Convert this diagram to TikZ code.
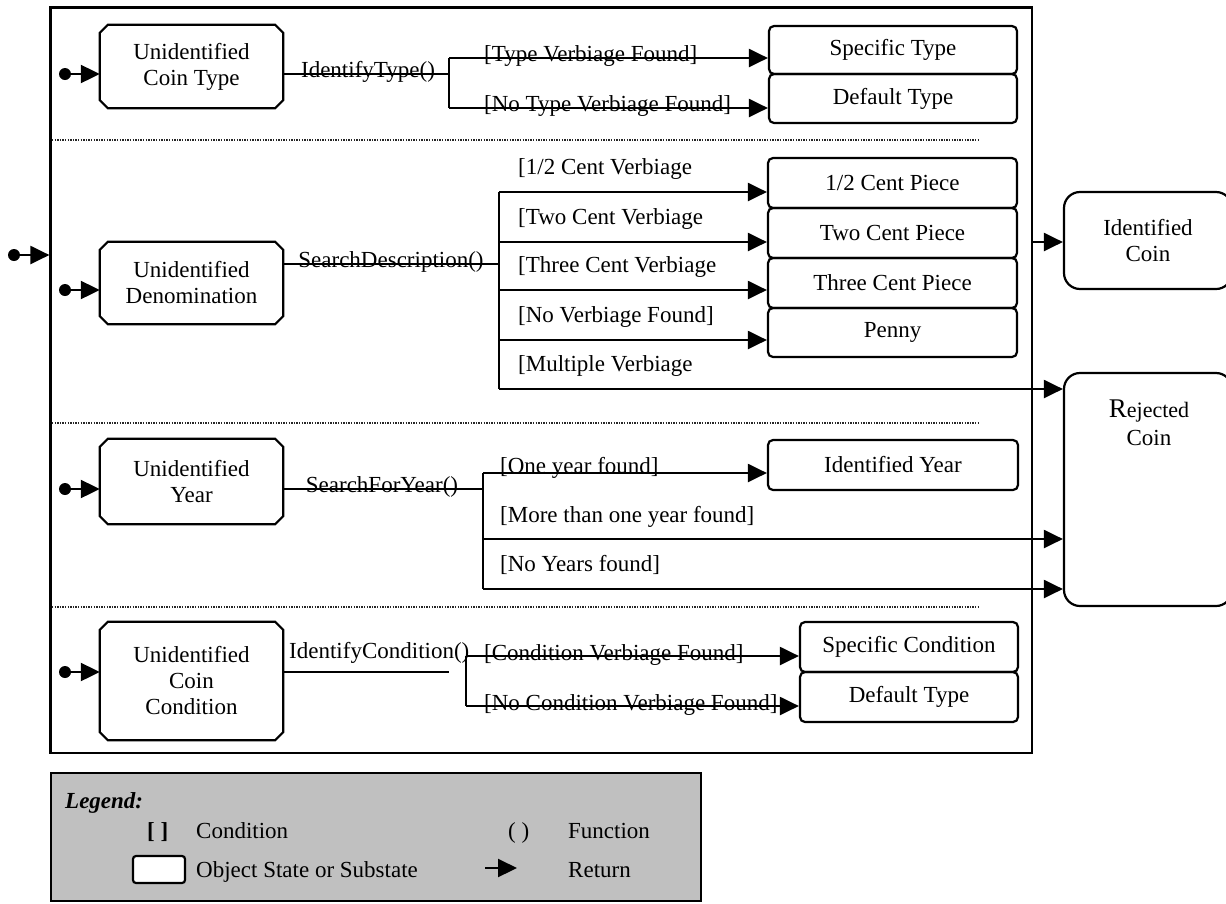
\documentclass[tikz,border=0pt]{standalone}
\usepackage{fontspec}
\setmainfont{Liberation Serif}
\usetikzlibrary{arrows.meta}
\definecolor{legendgray}{RGB}{192,192,192}
\tikzset{
  lw/.style={line width=2.2pt},
  arr/.style={lw,-{Triangle[length=19pt,width=18pt]}},
  sepline/.style={line width=1.2pt,dash pattern=on 1.4pt off 1.2pt,black!85},
  txt/.style={font=\fontsize{23}{26}\selectfont,inner sep=0pt},
  lbl/.style={txt,anchor=base west},
  flbl/.style={txt,anchor=base},
  sz/.style 2 args={minimum width=#1pt,minimum height=#2pt},
  ustate/.style={txt,inner sep=0pt,align=center},
  rstate/.style={txt,inner sep=0pt,align=center,draw,lw,rounded corners=5pt},
  bstate/.style={txt,inner sep=0pt,align=center,draw,lw,rounded corners=16pt},
  idot/.style={circle,fill=black,inner sep=0pt,minimum size=12pt},
}
\newcommand{\chambox}[1]{%
  \draw[lw] ([xshift=8pt]#1.north west) -- ([xshift=-8pt]#1.north east)
    -- ([yshift=-8pt]#1.north east) -- ([yshift=8pt]#1.south east)
    -- ([xshift=-8pt]#1.south east) -- ([xshift=8pt]#1.south west)
    -- ([yshift=8pt]#1.south west) -- ([yshift=-8pt]#1.north west) -- cycle;}
\begin{document}
\begin{tikzpicture}[x=1pt,y=-1pt]
\useasboundingbox (0,0) rectangle (1226,903);
% outer frame
\node[draw,lw,sz={981.5}{745.5}] (frame) at (541.25,380.25) {};
% separators
\draw[sepline] (52,140) -- (980,140);
\draw[sepline] (52,423) -- (980,423);
\draw[sepline] (52,607) -- (980,607);

% ---------- section 1: coin type
\node[ustate,sz={183}{83}] (b1) at (191.5,66.5) {Unidentified\\Coin Type};
\chambox{b1}
\node[idot] (d1) at (65,74) {};
\draw[arr] (d1) -- (d1 -| b1.west);
\coordinate (f1) at (449,74);
\draw[lw] (b1.east |- f1) -- (f1);
\node[flbl] at (368,77) {IdentifyType()};
\coordinate (g1a) at (449,58);
\coordinate (g1b) at (449,108);
\draw[lw] (g1a) -- (g1b);
\node[rstate,sz={248}{48}] (st) at (893,50) {Specific Type};
\node[rstate,sz={248}{49}] (dt) at (893,98.5) {Default Type};
\draw[arr] (g1a) -- (g1a -| st.west);
\draw[arr] (g1b) -- (g1b -| dt.west);
\node[lbl] at (484,61) {[Type Verbiage Found]};
\node[lbl] at (484,111) {[No Type Verbiage Found]};

% ---------- section 2: denomination
\node[idot] (d0) at (14,255) {};
\draw[arr] (d0) -- (d0 -| frame.west);
\node[ustate,sz={183}{82}] (b2) at (191.5,283) {Unidentified\\Denomination};
\chambox{b2}
\node[idot] (d2) at (65,290) {};
\draw[arr] (d2) -- (d2 -| b2.west);
\coordinate (f2) at (499,264);
\draw[lw] (b2.east |- f2) -- (f2);
\node[flbl] at (391,267) {SearchDescription()};
\coordinate (g2a) at (499,192);
\coordinate (g2b) at (499,242);
\coordinate (g2c) at (499,290);
\coordinate (g2d) at (499,340);
\coordinate (g2e) at (499,389);
\draw[lw] (g2a) -- (g2e);
\node[rstate,sz={249}{50}] (half) at (892.5,183) {1/2 Cent Piece};
\node[rstate,sz={249}{50}] (two) at (892.5,233) {Two Cent Piece};
\node[rstate,sz={249}{50}] (three) at (892.5,283) {Three Cent Piece};
\node[rstate,sz={249}{49}] (penny) at (892.5,332.5) {Penny};
\node[bstate,sz={168}{97}] (idc) at (1148,240.5) {Identified\\Coin};
\node[bstate,sz={168}{233}] (rej) at (1148,489.5) {};
\node[txt,anchor=base] (rejt) at (1149,417) {{\fontsize{27}{30}\selectfont R}{\fontsize{22}{24}\selectfont ejected}};
\node[txt,anchor=base] (rejc) at (1149,445) {Coin};
\draw[arr] (g2a) -- (g2a -| half.west);
\draw[arr] (g2b) -- (g2b -| two.west);
\draw[arr] (g2c) -- (g2c -| three.west);
\draw[arr] (g2d) -- (g2d -| penny.west);
\draw[arr] (g2e) -- (g2e -| rej.west);
\node[lbl] at (518,174) {[1/2 Cent Verbiage};
\node[lbl] at (518,224) {[Two Cent Verbiage};
\node[lbl] at (518,272) {[Three Cent Verbiage};
\node[lbl] at (518,322) {[No Verbiage Found]};
\node[lbl] at (518,371) {[Multiple Verbiage};
\draw[arr] (frame.east |- 0,242) -- (idc.west |- 0,242);

% ---------- section 3: year
\node[ustate,sz={183}{85}] (b3) at (191.5,481.5) {Unidentified\\Year};
\chambox{b3}
\node[idot] (d3) at (65,489) {};
\draw[arr] (d3) -- (d3 -| b3.west);
\coordinate (f3) at (483,489);
\draw[lw] (b3.east |- f3) -- (f3);
\node[flbl] at (382,492) {SearchForYear()};
\coordinate (g3a) at (483,473);
\coordinate (g3b) at (483,539);
\coordinate (g3c) at (483,589);
\draw[lw] (g3a) -- (g3c);
\node[rstate,sz={250}{50}] (iy) at (893,465) {Identified Year};
\draw[arr] (g3a) -- (g3a -| iy.west);
\draw[arr] (g3b) -- (g3b -| rej.west);
\draw[arr] (g3c) -- (g3c -| rej.west);
\node[lbl] at (500,473) {[One year found]};
\node[lbl] at (500,522) {[More than one year found]};
\node[lbl] at (500,571) {[No Years found]};

% ---------- section 4: condition
\node[ustate,sz={183}{118}] (b4) at (191.5,681) {Unidentified\\Coin\\Condition};
\chambox{b4}
\node[idot] (d4) at (65,672) {};
\draw[arr] (d4) -- (d4 -| b4.west);
\coordinate (f4) at (449,672);
\draw[lw] (b4.east |- f4) -- (f4);
\node[lbl] at (289,658) {IdentifyCondition()};
\coordinate (g4a) at (466,656);
\coordinate (g4b) at (466,706);
\draw[lw] (g4a) -- (g4b);
\node[rstate,sz={218}{50}] (sc) at (909,647) {Specific Condition};
\node[rstate,sz={218}{50}] (dc) at (909,697) {Default Type};
\draw[arr] (g4a) -- (g4a -| sc.west);
\draw[arr] (g4b) -- (g4b -| dc.west);
\node[lbl] at (484,660) {[Condition Verbiage Found]};
\node[lbl] at (484,710) {[No Condition Verbiage Found]};

% ---------- legend
\node[draw,lw,fill=legendgray,sz={650}{128}] (leg) at (376,837) {};
\node[lbl,font=\bfseries\itshape\fontsize{23}{26}\selectfont] (legt) at (65,808) {Legend:};
\node[lbl,font=\bfseries\fontsize{23}{26}\selectfont] (lsq) at (147,838) {[ ]};
\node[lbl] (lcond) at (196,838) {Condition};
\node[lbl] (lpar) at (508,838) {( )};
\node[lbl] (lfun) at (568,838) {Function};
\node[draw,lw,fill=white,rounded corners=3pt,sz={52}{27}] (lbox) at (159,869.5) {};
\node[lbl] (lobj) at (196,877) {Object State or Substate};
\coordinate (la) at (485,868);
\coordinate (lb) at (517,868);
\draw[arr] (la) -- (lb);
\node[lbl] (lret) at (568,877) {Return};
\end{tikzpicture}
\end{document}
